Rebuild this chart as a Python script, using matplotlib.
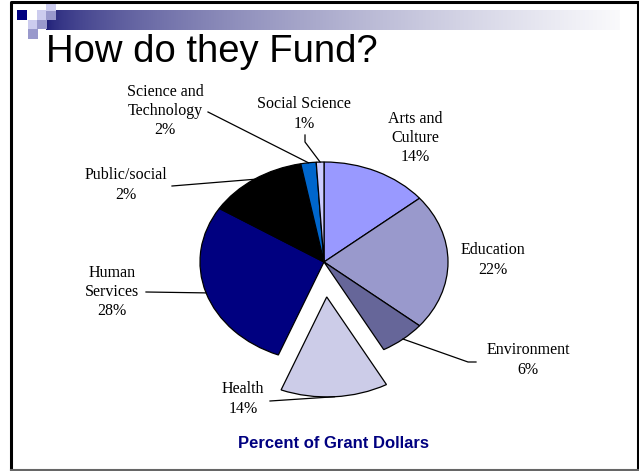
import matplotlib.pyplot as plt
import numpy as np
from matplotlib.patches import Rectangle

W, H = 639, 471

categories = ['Arts and\nCulture', 'Education', 'Environment', 'Health',
              'Human\nServices', 'Public/social', 'Science and\nTechnology',
              'Social Science']
# slice sizes (percent of the full circle)
shares = [14, 22, 6, 14, 28, 13, 2, 1]
# percentage texts as printed on the slide
pct_text = ['14%', '22%', '6%', '14%', '28%', '2%', '2%', '1%']

colors = ['#9999FF', '#9999CC', '#666699', '#CCCCE8', '#000080', '#000000',
          '#0066CC', '#CCCCFF']
explode = [0, 0, 0, 0.35, 0, 0, 0, 0]

# pie centre and radii in pixels (top-left origin), pie is squashed a bit
CX, CY, RX, RY = 324, 262, 124, 100

# label centres (px) and leader line start points (px)
label_pos = [(415, 138), (493, 260), (528, 360), (243, 399),
             (112, 292), (126, 185), (165, 111), (304, 114)]
leader_from = [None, None, [(476, 362), (468, 362)], [(270, 401)],
               [(146, 292)], [(172, 186)], [(208, 112)],
               [(305, 135), (305, 142)]]


def to_data(x, y):
    return ((x - CX) / RX, (CY - y) / RY)


fig = plt.figure(figsize=(W / 100, H / 100), dpi=100)

# slide background: frame, gradient bar, little squares, titles
bg = fig.add_axes([0, 0, 1, 1])
bg.axis('off')

grad = np.linspace(0, 1, 256) ** 0.6
c0 = np.array([0x1e, 0x1e, 0x78]) / 255
c1 = np.array([0xfa, 0xfa, 0xfc]) / 255
img = (c0 + (c1 - c0) * grad[:, None])[None, :, :]
bg.imshow(img, extent=(46, 620, 30, 10), aspect='auto', interpolation='bilinear')

squares = [(17, 10, '#000080'), (37, 10, '#CCCCEE'), (46, 10, '#9999CC'),
           (46, 1, '#CCCCEE'), (28, 19.5, '#CCCCEE'), (37, 19.5, '#9999CC'),
           (28, 29, '#9999CC')]
for sx, sy, sc in squares:
    bg.add_patch(Rectangle((sx, sy), 9.5, 9.5, facecolor=sc, edgecolor='none'))

bg.plot([10.5, 10.5, 637.5, 637.5], [469.5, 1.5, 1.5, 469.5], color='black', lw=2.2)
bg.plot([10.5, 637.5], [469.5, 469.5], color='#666666', lw=1.5)

bg.text(46, 62, 'How do they Fund?', fontsize=27.5, family='Liberation Sans',
        ha='left', va='baseline')
bg.text(333, 443, 'Percent of Grant Dollars', fontsize=12, family='Liberation Sans',
        fontweight='bold', color='#000080', ha='center', va='center')

bg.set_xlim(0, W)
bg.set_ylim(H, 0)

# pie
ax = fig.add_axes([0, 0, 1, 1])
ax.patch.set_visible(False)
wedges, _ = ax.pie(shares, colors=colors, explode=explode, startangle=90,
                   counterclock=False,
                   wedgeprops=dict(edgecolor='black', linewidth=0.9))
ax.set_aspect('auto')
ax.set_xlim(-CX / RX, (W - CX) / RX)
ax.set_ylim((CY - H) / RY, CY / RY)
ax.axis('off')

for w, cat, pct, pos, lead in zip(wedges, categories, pct_text, label_pos, leader_from):
    tx, ty = to_data(*pos)
    ax.text(tx, ty, cat + '\n' + pct, fontsize=11.5, family='Liberation Serif',
            ha='center', va='center', multialignment='center', linespacing=1.28)
    if lead is None:
        continue
    mid = np.deg2rad((w.theta1 + w.theta2) / 2)
    wx = w.center[0] + w.r * np.cos(mid)
    wy = w.center[1] + w.r * np.sin(mid)
    pts = [to_data(*p) for p in lead] + [(wx, wy)]
    xs, ys = zip(*pts)
    ax.plot(xs, ys, color='black', lw=0.9)

fig.savefig('out.png', dpi=100)
